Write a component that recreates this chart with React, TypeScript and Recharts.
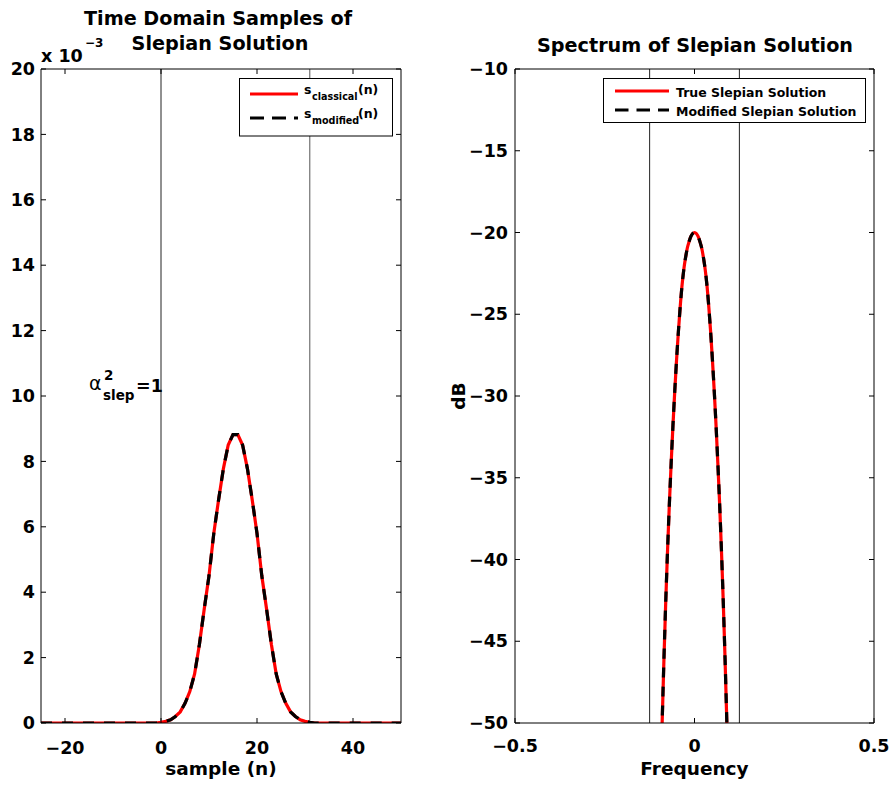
import { LineChart, Line, XAxis, YAxis, ReferenceLine } from 'recharts';

// ---- left panel: time domain samples (values in units of 1e-3) ----
const sampleN = [
  -25, -24, -23, -22, -21, -20, -19, -18, -17, -16, -15, -14, -13, -12, -11, -10, -9, -8, -7, -6, -5, -4, -3, -2, -1,
  0, 1, 2, 3, 4, 5, 6, 7, 8, 9, 10, 11, 12, 13, 14, 15, 16, 17, 18, 19, 20, 21, 22, 23, 24, 25, 26, 27, 28, 29, 30, 31,
  32, 33, 34, 35, 36, 37, 38, 39, 40, 41, 42, 43, 44, 45, 46, 47, 48, 49, 50,
];
const sClassical = [
  0, 0, 0, 0, 0, 0, 0, 0, 0, 0, 0, 0, 0, 0, 0, 0, 0, 0, 0, 0, 0, 0, 0, 0, 0,
  0.02, 0.05, 0.1, 0.2, 0.34, 0.6, 0.96, 1.5, 2.4, 3.48, 4.5, 5.8, 6.83, 7.78, 8.5, 8.82,
  8.82, 8.5, 7.78, 6.83, 5.8, 4.5, 3.48, 2.4, 1.5, 0.96, 0.6, 0.34, 0.2, 0.1, 0.05, 0.02,
  0, 0, 0, 0, 0, 0, 0, 0, 0, 0, 0, 0, 0, 0, 0, 0, 0, 0, 0,
];
// the modified solution lies exactly on top of the classical one in the picture
const sModified = sClassical;
const sampleTicks = [-20, 0, 20, 40];
const ampTicks = [0, 2, 4, 6, 8, 10, 12, 14, 16, 18, 20];
const windowEdges = [0, 31];

// ---- right panel: spectrum in dB ----
const freq = [
  -0.095, -0.09, -0.085, -0.08, -0.075, -0.07, -0.065, -0.06, -0.055, -0.05, -0.045, -0.04, -0.035, -0.03, -0.025, -0.02, -0.015, -0.01, -0.005,
  0, 0.005, 0.01, 0.015, 0.02, 0.025, 0.03, 0.035, 0.04, 0.045, 0.05, 0.055, 0.06, 0.065, 0.07, 0.075, 0.08, 0.085, 0.09, 0.095,
];
const trueDb = [
  -54.2, -49.9, -46.0, -42.5, -39.4, -36.6, -34.1, -31.8, -29.7, -27.8, -26.1, -24.6, -23.3, -22.3, -21.55, -20.95, -20.55, -20.24, -20.06,
  -20.0, -20.06, -20.24, -20.55, -20.95, -21.55, -22.3, -23.3, -24.6, -26.1, -27.8, -29.7, -31.8, -34.1, -36.6, -39.4, -42.5, -46.0, -49.9, -54.2,
];
// likewise the modified spectrum coincides with the true one
const modifiedDb = trueDb;
const freqTicks = [-0.5, 0, 0.5];
const dbTicks = [-50, -45, -40, -35, -30, -25, -20, -15, -10];
const bandEdges = [-0.125, 0.125];

const timeData = sampleN.map((n, i) => ({ n, classical: sClassical[i], modified: sModified[i] }));
const specData = freq.map((f, i) => ({ f, trueS: trueDb[i], modS: modifiedDb[i] }));

const FONT = 'DejaVu Sans';
const tickStyle = { fill: '#000', fontSize: 17.5, fontWeight: 'bold', fontFamily: FONT };
const minus = (v: number) => String(v).replace('-', '\u2212');
const blank = () => '';
const W = 892;
const H = 786;
const black = { stroke: '#000' };

export default function App() {
  return (
    <div style={{ position: 'absolute', left: 0, top: 0, width: W, height: H, background: '#fff' }}>
      {/* left chart */}
      <div style={{ position: 'absolute', left: 0, top: 0 }}>
        <LineChart width={440} height={H} data={timeData} margin={{ top: 68, right: 38, bottom: 23, left: 0 }}>
          <XAxis dataKey="n" type="number" domain={[-25, 50]} ticks={sampleTicks} interval={0} allowDataOverflow
            height={40} tickSize={-5} tickMargin={24} tick={tickStyle} tickFormatter={minus}
            axisLine={black} tickLine={black} />
          <XAxis xAxisId="top" dataKey="n" orientation="top" type="number" domain={[-25, 50]} ticks={sampleTicks} interval={0}
            allowDataOverflow height={1} tickSize={-5} tickFormatter={blank} axisLine={black} tickLine={black} />
          <YAxis type="number" domain={[0, 20]} ticks={ampTicks} interval={0} allowDataOverflow width={41}
            tickSize={-5} tickMargin={11} tick={tickStyle} axisLine={black} tickLine={black} />
          <YAxis yAxisId="right" orientation="right" type="number" domain={[0, 20]} ticks={ampTicks} interval={0}
            allowDataOverflow width={1} tickSize={-5} tickFormatter={blank} axisLine={black} tickLine={black} />
          {windowEdges.map((x, i) => (
            <ReferenceLine key={x} x={x} stroke={i === 0 ? '#222' : '#555'} strokeWidth={1} />
          ))}
          <Line dataKey="classical" type="linear" stroke="#ff0000" strokeWidth={3.2} dot={false} isAnimationActive={false} />
          <Line dataKey="modified" type="linear" stroke="#000" strokeWidth={3.2} strokeDasharray="11 10" dot={false} isAnimationActive={false} />
        </LineChart>
      </div>

      {/* right chart */}
      <div style={{ position: 'absolute', left: 440, top: 0 }}>
        <LineChart width={452} height={H} data={specData} margin={{ top: 68, right: 17, bottom: 23, left: 0 }}>
          <XAxis dataKey="f" type="number" domain={[-0.5, 0.5]} ticks={freqTicks} interval={0} allowDataOverflow
            height={40} tickSize={-5} tickMargin={22} tick={tickStyle} tickFormatter={minus}
            axisLine={black} tickLine={black} />
          <XAxis xAxisId="top" dataKey="f" orientation="top" type="number" domain={[-0.5, 0.5]} ticks={freqTicks} interval={0}
            allowDataOverflow height={1} tickSize={-5} tickFormatter={blank} axisLine={black} tickLine={black} />
          <YAxis type="number" domain={[-50, -10]} ticks={dbTicks} interval={0} allowDataOverflow width={75}
            tickSize={-5} tickMargin={12} tick={tickStyle} tickFormatter={minus} axisLine={black} tickLine={black} />
          <YAxis yAxisId="right" orientation="right" type="number" domain={[-50, -10]} ticks={dbTicks} interval={0}
            allowDataOverflow width={1} tickSize={-5} tickFormatter={blank} axisLine={black} tickLine={black} />
          {bandEdges.map((x) => (
            <ReferenceLine key={x} x={x} stroke="#222" strokeWidth={1} />
          ))}
          <Line dataKey="trueS" type="monotone" stroke="#ff0000" strokeWidth={3.2} dot={false} isAnimationActive={false} />
          <Line dataKey="modS" type="monotone" stroke="#000" strokeWidth={3.2} strokeDasharray="10 9" dot={false} isAnimationActive={false} />
        </LineChart>
      </div>

      {/* titles, labels, legends, annotation */}
      <svg width={W} height={H} style={{ position: 'absolute', left: 0, top: 0, pointerEvents: 'none' }}
        fontFamily={FONT} fontWeight="bold" fill="#000">
        <text x={218} y={25} fontSize={19.2} textAnchor="middle">Time Domain Samples of</text>
        <text x={220} y={50} fontSize={19.2} textAnchor="middle">Slepian Solution</text>
        <text x={695} y={51.5} fontSize={19.2} textAnchor="middle">Spectrum of Slepian Solution</text>

        <text x={41} y={61.5} fontSize={17.5}>x 10</text>
        <text x={85} y={47} fontSize={12}>{'\u22123'}</text>

        <text x={221} y={775} fontSize={18.5} textAnchor="middle">sample (n)</text>
        <text x={694.5} y={775} fontSize={18.5} textAnchor="middle">Frequency</text>
        <text transform="translate(465,396) rotate(-90)" fontSize={18.5} textAnchor="middle">dB</text>

        {/* alpha annotation */}
        <text x={89} y={390} fontSize={19} fontWeight="normal">{'\u03b1'}</text>
        <text x={104} y={380} fontSize={13.5}>2</text>
        <text x={103} y={400} fontSize={13.5}>slep</text>
        <text x={136} y={392} fontSize={17.5}>=1</text>

        {/* left legend */}
        <rect x={239.5} y={78.5} width={153} height={57.5} fill="#fff" stroke="#000" strokeWidth={1} />
        <line x1={250} x2={298} y1={94} y2={94} stroke="#ff0000" strokeWidth={3} />
        <line x1={250} x2={298} y1={118} y2={118} stroke="#000" strokeWidth={3} strokeDasharray="14 8" />
        <text x={304} y={93.5} fontSize={12.5}>s</text>
        <text x={312} y={99.5} fontSize={9.6}>classical</text>
        <text x={358} y={93.5} fontSize={12.5}>(n)</text>
        <text x={304} y={117.5} fontSize={12.5}>s</text>
        <text x={312} y={124} fontSize={9.6}>modified</text>
        <text x={358} y={117.5} fontSize={12.5}>(n)</text>

        {/* right legend */}
        <rect x={603.5} y={78.5} width={262} height={44} fill="#fff" stroke="#000" strokeWidth={1} />
        <line x1={615} x2={669} y1={91} y2={91} stroke="#ff0000" strokeWidth={3} />
        <line x1={615} x2={669} y1={110} y2={110} stroke="#000" strokeWidth={3} strokeDasharray="13.5 8" />
        <text x={676} y={96.5} fontSize={12.5}>True Slepian Solution</text>
        <text x={676} y={115.5} fontSize={12.5}>Modified Slepian Solution</text>
      </svg>
    </div>
  );
}
